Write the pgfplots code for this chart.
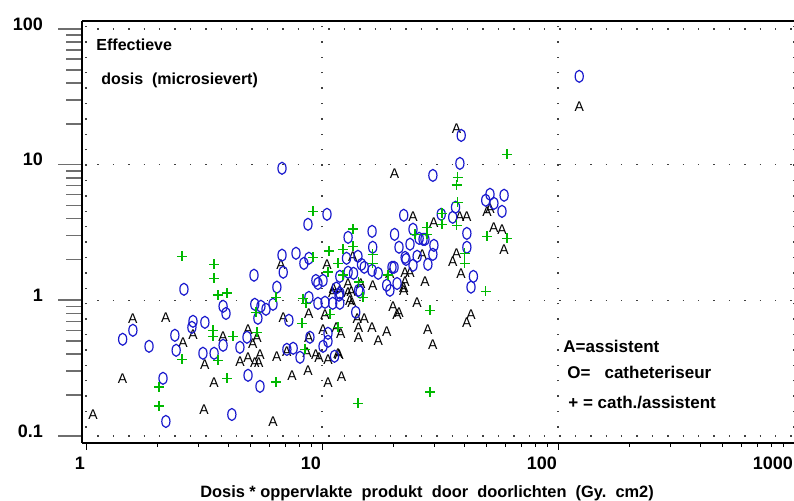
\documentclass[border=0pt]{standalone}
\usepackage{pgfplots}
\pgfplotsset{compat=1.18}
\usepackage{fontspec}
\setmainfont{Liberation Sans}
\definecolor{oblue}{RGB}{25,25,205}
\definecolor{pgreen}{RGB}{0,185,0}
\definecolor{tickgray}{RGB}{110,110,110}

\begin{document}
\begin{tikzpicture}
\begin{axis}[
    scale only axis,
    width=356pt, height=211pt,
    xmode=log, ymode=log,
    xmin=0.9617, xmax=1000,
    ymin=0.0888, ymax=114.3,
    clip=false,
    axis x line*=bottom, axis y line*=left,
    axis line style={line width=0.75pt},
    xtick={1,10,100,1000}, xticklabels={1,10,100,1000},
    ytick={0.1,1,10,100}, yticklabels={0.1,1,10,100},
    minor xtick={2,3,4,5,6,7,8,9,20,30,40,50,60,70,80,90,200,300,400,500,600,700,800,900},
    minor ytick={0.2,0.3,0.4,0.5,0.6,0.7,0.8,0.9,2,3,4,5,6,7,8,9,20,30,40,50,60,70,80,90},
    tick align=outside,
    major tick length=3.5pt, minor tick length=2pt,
    xtick style={black, line width=0.5pt},
    ytick style={tickgray, line width=0.8pt, /pgfplots/major tick length=12pt, /pgfplots/minor tick length=8pt},
    xmajorgrids, ymajorgrids,
    major grid style={black!75, line width=0.7pt, dash pattern=on 0.7pt off 7pt},
    ticklabel style={font=\bfseries\fontsize{9}{10}\selectfont},
    xticklabel style={anchor=north east, xshift=3pt},
    yticklabel style={anchor=east, xshift=-12.5pt, yshift=2.5pt},
]

% A = assistent
\addplot[only marks, mark=text, text mark={\fontsize{7}{8}\selectfont A}, black] coordinates {
(1.07,0.144) (1.43,0.266) (1.58,0.737) (2.18,0.75) (2.84,0.562) (2.58,0.49)
(3.19,0.338) (3.81,0.543) (3.16,0.155) (3.49,0.249) (4.49,0.35) (4.86,0.611)
(4.86,0.38) (5.09,0.482) (5.30,0.534) (5.19,0.344) (5.40,0.344) (5.46,0.40)
(6.2,0.128) (6.44,0.387) (7.1,0.42) (7.47,0.28) (6.71,1.84) (6.85,0.75)
(8.72,0.305) (8.80,0.534) (8.64,0.414) (9.42,0.40) (9.71,0.38) (10.6,0.367)
(11.8,0.40) (10.6,0.245) (12.1,0.275) (14.3,0.534) (17.3,0.50) (18.8,0.59)
(12.0,0.571) (8.80,0.80) (10.3,0.79) (11.1,1.13) (12.9,1.13) (13.4,0.967)
(14.1,0.737) (15.1,0.737) (14.3,0.632) (10.1,0.611) (11.5,0.632) (16.3,0.632)
(20,0.903) (21.2,0.816) (20.8,0.789) (22.2,1.185) (25.3,0.967) (28.1,0.611)
(29.5,0.474) (41.1,0.688) (42.8,0.789) (11.7,0.407) (10.5,1.84) (13.5,2.11)
(19.4,1.58) (22.5,1.61) (23.6,1.61) (27.3,1.38) (16.4,1.29) (22.5,1.36)
(22.2,1.23) (14.6,1.33) (12.9,1.33) (13.3,1.15) (11.2,1.21) (20.3,8.6)
(24.3,4.16) (26.6,2.18) (29.8,3.76) (38.4,4.16) (41.1,4.16) (50,4.52)
(51.5,4.76) (53.5,3.45) (57.9,3.34) (59.1,2.37) (37.2,2.22) (35.8,1.94)
(38.8,1.58) (37.2,18.5) (123,26.9) (11.9,1.185) (13.1,1.0)
};

% O = catheteriseur
\addplot[only marks, mark=o, oblue, mark size=3pt,
    mark options={xscale=0.68, line width=0.6pt}] coordinates {
(123,44.7) (38.9,16.4) (38.4,10.2) (29.5,8.32) (6.77,9.39) (51.5,6.04)
(59.1,5.94) (49.4,5.46) (53.5,5.18) (57.9,4.52) (36.8,4.85) (32.0,4.30)
(35.8,4.09) (22.2,4.23) (24.3,3.34) (25.8,2.86) (26.8,2.81) (27.3,2.81)
(20.3,3.06) (23.6,2.59) (21.2,2.46) (29.8,2.54) (29.5,2.18) (25.3,2.11)
(22.5,2.07) (22.7,2.0) (24.3,1.81) (28.1,1.84) (19.8,1.75) (20.2,1.75)
(20.8,1.33) (19.4,1.185) (41.1,3.11) (41.1,2.46) (43.8,1.50) (42.8,1.25)
(10.5,4.30) (8.72,3.63) (16.3,3.22) (12.9,2.91) (16.4,2.46) (7.76,2.22)
(6.77,2.15) (8.80,2.04) (12.7,2.04) (14.2,2.11) (8.38,1.87) (14.7,1.84)
(15.1,1.75) (6.85,1.61) (11.9,1.50) (12.9,1.61) (13.6,1.58) (16.3,1.66)
(17.3,1.58) (9.42,1.40) (9.61,1.33) (10.1,1.40) (11.5,1.23) (11.9,1.13)
(14.3,1.185) (18.8,1.29) (8.80,1.05) (5.15,1.53) (6.44,1.25) (2.60,1.205)
(3.81,0.903) (3.92,0.80) (2.84,0.70) (3.19,0.688) (2.81,0.632) (1.58,0.601)
(1.43,0.516) (2.38,0.552) (1.85,0.458) (2.41,0.428) (3.13,0.407) (3.49,0.407)
(3.81,0.466) (4.49,0.45) (4.81,0.534) (4.86,0.28) (2.12,0.266) (4.15,0.144)
(2.18,0.128) (5.19,0.934) (5.51,0.903) (5.79,0.858) (6.2,0.934) (5.35,0.737)
(7.24,0.712) (5.46,0.232) (7.10,0.435) (7.55,0.443) (8.07,0.38) (8.89,0.534)
(10.1,0.458) (10.6,0.499) (10.6,0.571) (11.3,0.387) (13.9,0.816) (9.61,0.95)
(10.3,0.967) (11.1,0.95) (11.9,0.95) (11.8,1.09) (14.5,1.15)
};

% + = cath./assistent
\addplot[only marks, mark=+, pgreen, mark size=2.5pt,
    mark options={line width=0.75pt}] coordinates {
(60.9,11.9) (37.6,8.05) (37.2,7.05) (37.6,5.27) (32.3,4.37) (32.3,3.63)
(37.2,3.57) (27.8,3.45) (24.8,3.06) (27.8,3.06) (50,2.96) (60.9,2.86)
(40.2,2.22) (40.2,1.87) (49.4,1.165) (28.7,0.844) (28.7,0.211) (14.2,0.174)
(9.18,4.52) (13.5,3.34) (13.5,2.50) (12.3,2.37) (10.7,2.30) (9.18,2.07)
(16.4,2.18) (16.4,1.87) (11.7,1.87) (10.6,1.61) (12.3,1.53) (14.3,1.36)
(19.0,1.53) (8.32,1.03) (8.56,0.95) (8.24,0.677) (10.8,0.789) (8.48,0.435)
(11.7,0.632) (14.9,1.05) (5.25,0.816) (5.30,0.581) (6.37,1.05) (6.37,0.249)
(2.55,2.11) (3.49,1.84) (3.49,1.45) (3.62,1.09) (3.96,1.13) (3.45,0.601)
(3.45,0.543) (4.20,0.543) (2.55,0.367) (3.62,0.361) (3.96,0.266) (2.04,0.229)
(2.04,0.166)
};

\draw[line width=0.75pt] (rel axis cs:0,1) -- (rel axis cs:1,1);
\begin{scope}[font=\bfseries\fontsize{8.5}{10}\selectfont, inner sep=0pt]
\node[anchor=west, font=\bfseries\fontsize{8}{10}\selectfont] at (axis description cs:0.0197,0.943) {Effectieve};
\node[anchor=west, font=\bfseries\fontsize{8}{10}\selectfont] at (axis description cs:0.0267,0.860) {dosis\ \ (microsievert)};
\node[anchor=west] at (axis description cs:0.6756,0.2299) {A=assistent};
\node[anchor=west] at (axis description cs:0.681,0.168) {O=\ \ \ catheteriseur};
\node[anchor=west] at (axis description cs:0.6826,0.0948) {+ = cath./assistent};
\node[anchor=center, yshift=-25pt, font=\bfseries\fontsize{8.2}{10}\selectfont] at (axis description cs:0.4846,0) {Dosis * oppervlakte\ \ produkt\ \ door\ \ doorlichten\ \ (Gy.\ \ cm2)};
\end{scope}
\end{axis}
\pgfresetboundingbox
\useasboundingbox (-41pt,-29pt) rectangle (356pt,221.5pt);
\end{tikzpicture}
\end{document}
